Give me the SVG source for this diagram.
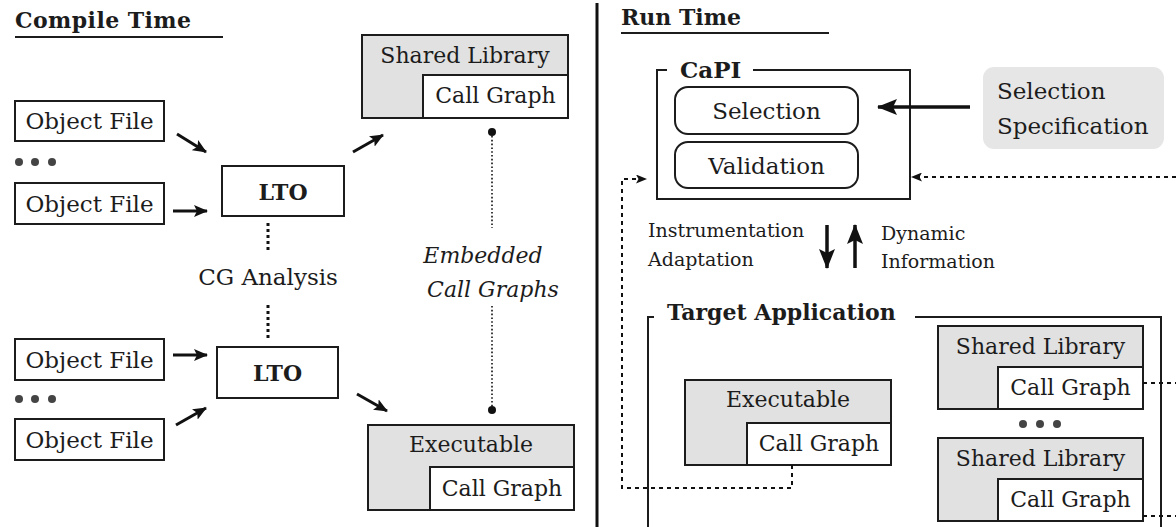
<svg xmlns="http://www.w3.org/2000/svg" width="1176" height="527" viewBox="0 0 1176 527">
  <style>
    text { font-family: "DejaVu Serif", "Liberation Serif", serif; fill: #1c1c1c; }
    .t { font-size: 22px; }
    .l { font-size: 23px; }
    .c { text-anchor: middle; }
    .b { font-weight: bold; }
    .i { font-style: italic; }
    .s { font-size: 19px; }
    .box { fill: #ffffff; stroke: #1c1c1c; stroke-width: 2; }
    .gray { fill: #e1e1e1; stroke: #1c1c1c; stroke-width: 2; }
    .frame { fill: none; stroke: #1c1c1c; stroke-width: 2; }
    .arrow { stroke: #111; stroke-width: 3; fill: none; marker-end: url(#head); }
    .big { stroke: #111; stroke-width: 3.5; fill: none; marker-end: url(#bighead); }
    .dash { stroke: #111; stroke-width: 2; fill: none; stroke-dasharray: 4 4; }
    .dot { stroke: #111; stroke-width: 1.6; fill: none; stroke-dasharray: 1.6 2.2; }
    .thickdot { stroke: #111; stroke-width: 3; fill: none; stroke-dasharray: 3 3; }
    .pt { fill: #444; }
  </style>
  <defs>
    <marker id="head" viewBox="0 0 14 12" refX="13" refY="6" markerWidth="14" markerHeight="12" markerUnits="userSpaceOnUse" orient="auto">
      <path d="M0,0 L14,6 L0,12 L3,6 z" fill="#111"/>
    </marker>
    <marker id="bighead" viewBox="0 0 20 16" refX="19" refY="8" markerWidth="20" markerHeight="16" markerUnits="userSpaceOnUse" orient="auto">
      <path d="M0,0 L20,8 L0,16 L4,8 z" fill="#111"/>
    </marker>
    <marker id="smallhead" viewBox="0 0 11 9" refX="10" refY="4.5" markerWidth="11" markerHeight="9" markerUnits="userSpaceOnUse" orient="auto">
      <path d="M0,0 L11,4.5 L0,9 L2.5,4.5 z" fill="#111"/>
    </marker>
  </defs>

  <!-- section headings -->
  <g id="heading-compile">
    <text class="t b" x="15" y="28" textLength="176">Compile Time</text>
    <line x1="15" y1="37" x2="223" y2="37" stroke="#1c1c1c" stroke-width="2"/>
  </g>
  <g id="heading-run">
    <text class="t b" x="621" y="25">Run Time</text>
    <line x1="621" y1="33" x2="829" y2="33" stroke="#1c1c1c" stroke-width="2"/>
  </g>
  <line id="divider" x1="597" y1="3" x2="597" y2="527" stroke="#111" stroke-width="3"/>

  <!-- compile time nodes -->
  <g id="obj1"><rect class="box" x="15" y="101" width="149" height="40"/><text class="l c" x="89.5" y="129">Object File</text></g>
  <g id="obj2"><rect class="box" x="15" y="183" width="149" height="41"/><text class="l c" x="89.5" y="212">Object File</text></g>
  <g id="obj3"><rect class="box" x="15" y="339" width="149" height="41"/><text class="l c" x="89.5" y="368">Object File</text></g>
  <g id="obj4"><rect class="box" x="15" y="419" width="149" height="41"/><text class="l c" x="89.5" y="448">Object File</text></g>
  <g id="dots-a"><circle class="pt" cx="19" cy="162" r="4"/><circle class="pt" cx="35" cy="162" r="4"/><circle class="pt" cx="52" cy="162" r="4"/></g>
  <g id="dots-b"><circle class="pt" cx="19" cy="399" r="4"/><circle class="pt" cx="35" cy="399" r="4"/><circle class="pt" cx="52" cy="399" r="4"/></g>

  <g id="lto1"><rect class="box" x="222" y="166" width="122" height="50"/><text class="t b c" x="283" y="200">LTO</text></g>
  <g id="lto2"><rect class="box" x="217" y="347" width="121" height="51"/><text class="t b c" x="277.5" y="381">LTO</text></g>
  <g id="cg-analysis"><text class="l c" x="268" y="285">CG Analysis</text></g>

  <g id="shlib-compile">
    <rect class="gray" x="362" y="35" width="206" height="83"/>
    <text class="t c" x="465" y="63">Shared Library</text>
    <rect class="box" x="423" y="75" width="145" height="43"/>
    <text class="t c" x="495.5" y="103">Call Graph</text>
  </g>
  <g id="exe-compile">
    <rect class="gray" x="368" y="425" width="206" height="85"/>
    <text class="t c" x="471" y="452">Executable</text>
    <rect class="box" x="430" y="467" width="144" height="43"/>
    <text class="t c" x="502" y="496">Call Graph</text>
  </g>
  <g id="embedded-label">
    <text class="t i c" x="483" y="263">Embedded</text>
    <text class="t i c" x="493" y="297">Call Graphs</text>
  </g>

  <!-- run time nodes -->
  <g id="capi">
    <path class="frame" d="M667,70 H657 V199 H910 V70 H753" stroke-width="1.8"/>
    <text class="l b" x="680" y="78">CaPI</text>
    <rect class="box" x="675" y="87" width="183" height="47" rx="13"/>
    <text class="l c" x="766.5" y="119">Selection</text>
    <rect class="box" x="675" y="142" width="183" height="46" rx="13"/>
    <text class="l c" x="766.5" y="174">Validation</text>
  </g>
  <g id="selection-spec">
    <rect x="983" y="67" width="181" height="82" rx="11" fill="#e6e6e6"/>
    <text class="l" x="997" y="99">Selection</text>
    <text class="l" x="997" y="134">Specification</text>
  </g>
  <g id="instr-label">
    <text class="s" x="648" y="237">Instrumentation</text>
    <text class="s" x="648" y="266">Adaptation</text>
  </g>
  <g id="dyn-label">
    <text class="s" x="881" y="240">Dynamic</text>
    <text class="s" x="881" y="268">Information</text>
  </g>

  <g id="target-app">
    <path class="frame" d="M654,317 H648 V527 M915,317 H1161 V527" stroke-width="2.5"/>
    <text class="t b" x="667" y="320">Target Application</text>
  </g>
  <g id="exe-run">
    <rect class="gray" x="685" y="380" width="206" height="85"/>
    <text class="t c" x="788" y="407">Executable</text>
    <rect class="box" x="747" y="423" width="144" height="42"/>
    <text class="t c" x="819" y="451">Call Graph</text>
  </g>
  <g id="shlib-run1">
    <rect class="gray" x="938" y="326" width="205" height="83"/>
    <text class="t c" x="1040.5" y="354">Shared Library</text>
    <rect class="box" x="998" y="367" width="145" height="42"/>
    <text class="t c" x="1070.5" y="395">Call Graph</text>
  </g>
  <g id="dots-c"><circle class="pt" cx="1023" cy="424" r="4"/><circle class="pt" cx="1040" cy="424" r="4"/><circle class="pt" cx="1057" cy="424" r="4"/></g>
  <g id="shlib-run2">
    <rect class="gray" x="938" y="438" width="205" height="83"/>
    <text class="t c" x="1040.5" y="466">Shared Library</text>
    <rect class="box" x="998" y="479" width="145" height="42"/>
    <text class="t c" x="1070.5" y="507">Call Graph</text>
  </g>

  <!-- connectors -->
  <g id="connectors">
    <line class="arrow" x1="177" y1="134" x2="206" y2="152"/>
    <line class="arrow" x1="173" y1="211" x2="207" y2="211"/>
    <line class="arrow" x1="353" y1="152" x2="383" y2="135"/>
    <line class="arrow" x1="173" y1="355" x2="207" y2="355"/>
    <line class="arrow" x1="176" y1="425" x2="206" y2="408"/>
    <line class="arrow" x1="357" y1="394" x2="387" y2="411"/>

    <line class="thickdot" x1="268" y1="223" x2="268" y2="253"/>
    <line class="thickdot" x1="268" y1="305" x2="268" y2="341"/>

    <circle cx="492" cy="132" r="4" fill="#111"/>
    <line class="dot" x1="492" y1="136" x2="492" y2="228"/>
    <line class="dot" x1="492" y1="306" x2="492" y2="406"/>
    <circle cx="492" cy="410" r="4" fill="#111"/>

    <line class="big" x1="970" y1="107" x2="878" y2="107"/>
    <line class="big" x1="827" y1="225" x2="827" y2="268"/>
    <line class="big" x1="855" y1="268" x2="855" y2="225"/>

    <line class="dash" x1="1176" y1="177" x2="912" y2="177" marker-end="url(#smallhead)"/>
    <path class="dash" d="M792,465 V488 H622 V179 H646" marker-end="url(#smallhead)"/>
    <line class="dash" x1="1143" y1="383" x2="1176" y2="383"/>
    <line class="dash" x1="1143" y1="516" x2="1176" y2="516"/>
  </g>
</svg>
